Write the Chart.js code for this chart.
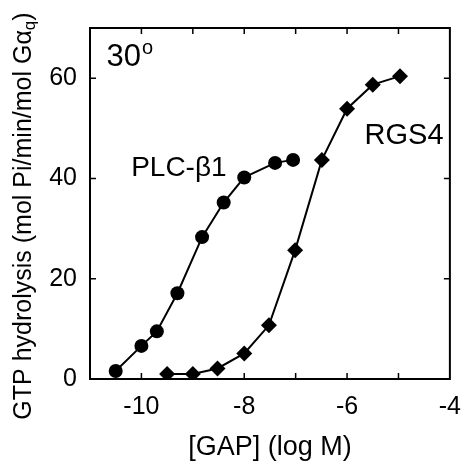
<!DOCTYPE html>
<html><head><meta charset="utf-8">
<script src="https://cdn.jsdelivr.net/npm/chart.js@4/dist/chart.umd.min.js"></script>
<style>html,body{margin:0;padding:0;background:#fff}#wrap{width:474px;height:475px}</style>
</head><body><div id="wrap"><canvas id="c" width="474" height="475"></canvas></div>
<script>
// Data
const plcLogConc = [-10.5, -10, -9.7, -9.3, -8.82, -8.4, -8, -7.4, -7.05];
const plcRate    = [1.6, 6.6, 9.5, 17.1, 28.3, 35.2, 40.2, 43.1, 43.7];
const rgsLogConc = [-9.5, -9, -8.52, -8, -7.52, -7.01, -6.49, -6, -5.5, -4.97];
const rgsRate    = [1.0, 1.0, 2.1, 5.1, 10.7, 25.7, 43.7, 53.9, 58.7, 60.4];
const xTickLabels = [-10, -8, -6, -4];
const yTickLabels = [0, 20, 40, 60];
const seriesNames = ['PLC-β1', 'RGS4'];
const xTitle = '[GAP] (log M)';
const yTitleMain = 'GTP hydrolysis (mol Pi/min/mol Gα';
const yTitleSub = 'q';
const yTitleEnd = ')';
const tempLabel = '30';

const FONT = '"Liberation Sans", Arial, Helvetica, sans-serif';

function pts(xs, ys) { return xs.map((x, i) => ({x: x, y: ys[i]})); }

const framePlugin = {
  id: 'frame',
  afterDraw(chart) {
    const ctx = chart.ctx;
    const a = chart.chartArea;
    const xs = chart.scales.x, ys = chart.scales.y;
    ctx.save();
    ctx.strokeStyle = '#000';
    ctx.lineWidth = 2;
    ctx.strokeRect(a.left, a.top, a.right - a.left, a.bottom - a.top);
    ctx.lineWidth = 1.5;
    const tl = 6;
    ctx.beginPath();
    xs.ticks.forEach(t => {
      const v = t.value;
      if (v <= xs.min || v >= xs.max) return;
      const px = xs.getPixelForValue(v);
      ctx.moveTo(px, a.bottom); ctx.lineTo(px, a.bottom - tl);
      ctx.moveTo(px, a.top); ctx.lineTo(px, a.top + tl);
    });
    yTickLabels.forEach(v => {
      if (v <= ys.min || v >= ys.max) return;
      const py = ys.getPixelForValue(v);
      ctx.moveTo(a.left, py); ctx.lineTo(a.left + tl, py);
      ctx.moveTo(a.right, py); ctx.lineTo(a.right - tl, py);
    });
    ctx.stroke();

    // Y-axis title with subscript
    ctx.fillStyle = '#000';
    const mainF = '25px ' + FONT, subF = '17px ' + FONT;
    ctx.font = mainF; const w1 = ctx.measureText(yTitleMain).width;
    const w3 = ctx.measureText(yTitleEnd).width;
    ctx.font = subF; const w2 = ctx.measureText(yTitleSub).width;
    const total = w1 + w2 + w3;
    ctx.translate(24, 216);
    ctx.rotate(-Math.PI / 2);
    ctx.textBaseline = 'middle';
    ctx.textAlign = 'left';
    let x0 = -total / 2;
    ctx.font = mainF; ctx.fillText(yTitleMain, x0, 0);
    ctx.font = subF; ctx.fillText(yTitleSub, x0 + w1, 6);
    ctx.font = mainF; ctx.fillText(yTitleEnd, x0 + w1 + w2, 0);
    ctx.restore();

    // Annotations
    ctx.save();
    ctx.fillStyle = '#000';
    ctx.textBaseline = 'alphabetic';
    ctx.textAlign = 'left';
    ctx.font = '31px ' + FONT;
    const tx = xs.getPixelForValue(-10.68), ty = ys.getPixelForValue(62.4);
    ctx.fillText(tempLabel, tx, ty);
    const tw = ctx.measureText(tempLabel).width;
    ctx.font = '20px ' + FONT;
    ctx.fillText('o', tx + tw + 1, ty - 12);
    ctx.font = '28px ' + FONT;
    ctx.fillText(seriesNames[0], xs.getPixelForValue(-10.2), ys.getPixelForValue(40.5));
    ctx.font = '29px ' + FONT;
    ctx.fillText(seriesNames[1], xs.getPixelForValue(-5.66), ys.getPixelForValue(46.9));
    ctx.restore();
  }
};

new Chart(document.getElementById('c'), {
  type: 'scatter',
  data: {
    datasets: [
      {
        label: seriesNames[0],
        data: pts(plcLogConc, plcRate),
        showLine: true,
        borderColor: '#000',
        backgroundColor: '#000',
        borderWidth: 2,
        pointStyle: 'circle',
        pointRadius: 7,
        pointBorderWidth: 0,
        tension: 0
      },
      {
        label: seriesNames[1],
        data: pts(rgsLogConc, rgsRate),
        showLine: true,
        borderColor: '#000',
        backgroundColor: '#000',
        borderWidth: 2,
        pointStyle: 'rectRot',
        pointRadius: 8,
        pointBorderWidth: 0,
        tension: 0
      }
    ]
  },
  options: {
    responsive: false,
    animation: false,
    devicePixelRatio: 1,
    layout: { padding: { top: 16, right: 19, left: 0, bottom: 0 } },
    plugins: { legend: { display: false }, tooltip: { enabled: false } },
    scales: {
      x: {
        type: 'linear',
        min: -11, max: -4,
        grid: { display: false, drawTicks: false },
        border: { display: false },
        afterFit(s) { s.height = 96; },
        ticks: {
          stepSize: 1,
          padding: 13,
          color: '#000',
          font: { family: FONT, size: 25 },
          maxRotation: 0,
          autoSkip: false,
          callback: v => xTickLabels.includes(v) ? String(v) : ''
        },
        title: {
          display: true,
          text: xTitle,
          color: '#000',
          font: { family: FONT, size: 27 },
          padding: { top: 0, bottom: 11 }
        }
      },
      y: {
        type: 'linear',
        min: 0, max: 70,
        grid: { display: false, drawTicks: false },
        border: { display: false },
        afterFit(s) { s.width = 90; },
        ticks: {
          stepSize: 20,
          padding: 13,
          color: '#000',
          font: { family: FONT, size: 25 },
          callback: v => yTickLabels.includes(v) ? String(v) : ''
        }
      }
    }
  },
  plugins: [framePlugin]
});
</script>
</body></html>
